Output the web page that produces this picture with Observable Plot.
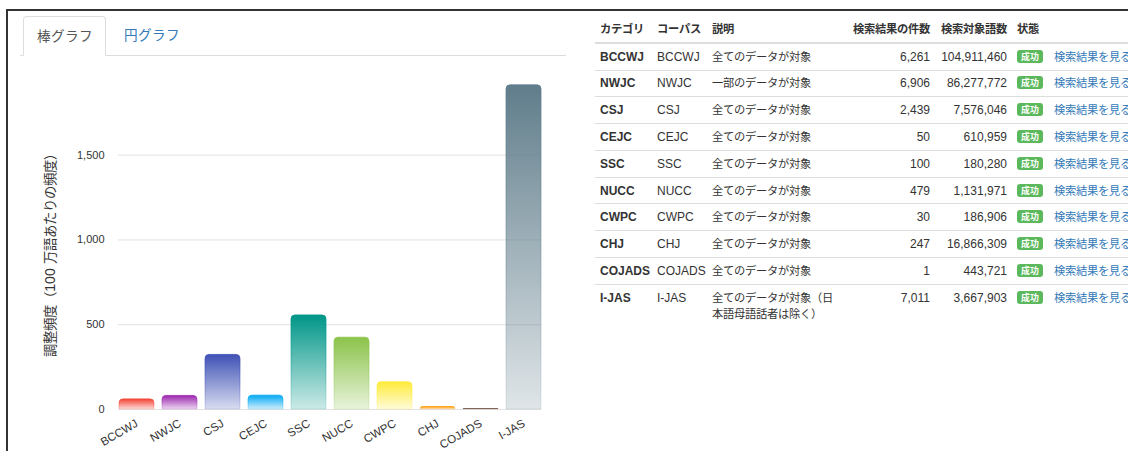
<!DOCTYPE html>
<html>
<head>
<meta charset="utf-8">
<script src="https://cdn.jsdelivr.net/npm/d3@7"></script>
<script src="https://cdn.jsdelivr.net/npm/@observablehq/plot@0.6"></script>
<style>
@font-face { font-family: "JPsmall"; src: local("Noto Sans CJK JP"), local("NotoSansCJKjp-Regular"); size-adjust: 94%; }
@font-face { font-family: "JPsmall"; src: local("Noto Sans CJK JP Bold"), local("NotoSansCJKjp-Bold"); font-weight: bold; size-adjust: 94%; }
html, body { margin: 0; padding: 0; width: 1128px; height: 451px; overflow: hidden; background: #fff; }
body { position: relative; font-family: "Liberation Sans", JPsmall, "Noto Sans CJK JP", sans-serif; color: #333; }
#frame { position: absolute; left: 6px; top: 9px; right: -4px; bottom: -4px; border-top: 2px solid #333; border-left: 2px solid #333; }
#tabs { position: absolute; left: 20px; top: 16px; width: 546px; height: 39px; border-bottom: 1px solid #ddd; }
.tab { position: absolute; top: 0; font-size: 14.5px; line-height: 38px; box-sizing: border-box; white-space: nowrap; }
.tab.active { left: 3px; width: 83px; height: 40px; border: 1px solid #ddd; border-bottom-color: #fff; border-radius: 4px 4px 0 0; background: #fff; color: #555; text-align: center; }
.tab.other { left: 104px; color: #337ab7; }
#chart { position: absolute; left: 8px; top: 60px; }
#tbl { position: absolute; left: 595px; top: 16px; border-collapse: collapse; table-layout: fixed; font-size: 12px; width: 574px; }
#tbl th, #tbl td { padding: 4.9px 5px; line-height: 16px; vertical-align: top; text-align: left; white-space: nowrap; overflow: visible; }
#tbl th { font-weight: bold; border-bottom: 2px solid #ddd; }
#tbl td { border-top: 1px solid #ddd; }
#tbl td.cat { font-weight: bold; }
#tbl td.desc { white-space: normal; }
#tbl .num { text-align: right; }
#tbl .badge { display: inline-block; background: #5cb85c; color: #fff; font-weight: bold; font-size: 9.5px; line-height: 13px; padding: 0 4px; border-radius: 3px; vertical-align: 1px; }
#tbl a { color: #337ab7; text-decoration: none; }
</style>
</head>
<body>
<div id="frame"></div>
<div id="tabs"></div>
<div id="chart"></div>
<table id="tbl"></table>
<script>
const FONT = "'Liberation Sans', JPsmall, 'Noto Sans CJK JP', sans-serif";

// ---- chart data ----
const categories = ["BCCWJ", "NWJC", "CSJ", "CEJC", "SSC", "NUCC", "CWPC", "CHJ", "COJADS", "I-JAS"];
const adjustedFreq = [59.7, 80.0, 321.9, 81.8, 554.7, 423.2, 160.5, 14.6, 2.3, 1911.4];
const barColors = ["#f44336", "#9c27b0", "#3f51b5", "#03a9f4", "#009688", "#8bc34a", "#ffeb3b", "#ff9800", "#795548", "#607d8b"];
const yTicks = [0, 500, 1000, 1500];
const yTitle = "調整頻度（100 万語あたりの頻度）";
const tabLabels = ["棒グラフ", "円グラフ"];

// ---- table data ----
const tableHeaders = ["カテゴリ", "コーパス", "説明", "検索結果の件数", "検索対象語数", "状態", ""];
const corpora = ["BCCWJ", "NWJC", "CSJ", "CEJC", "SSC", "NUCC", "CWPC", "CHJ", "COJADS", "I-JAS"];
const descriptions = ["全てのデータが対象", "一部のデータが対象", "全てのデータが対象", "全てのデータが対象", "全てのデータが対象", "全てのデータが対象", "全てのデータが対象", "全てのデータが対象", "全てのデータが対象", "全てのデータが対象（日本語母語話者は除く）"];
const hitCounts = [6261, 6906, 2439, 50, 100, 479, 30, 247, 1, 7011];
const wordCounts = [104911460, 86277772, 7576046, 610959, 180280, 1131971, 186906, 16866309, 443721, 3667903];
const statusLabel = "成功";
const linkLabel = "検索結果を見る";

// tabs
const tabs = d3.select("#tabs");
tabs.append("div").attr("class", "tab active").text(tabLabels[0]);
tabs.append("div").attr("class", "tab other").text(tabLabels[1]);

// chart
const rows = categories.map((c, i) => ({category: c, value: adjustedFreq[i], paint: `url(#barGrad${i})`}));
const chart = Plot.plot({
  width: 558,
  height: 391,
  marginLeft: 110,
  marginRight: 25,
  marginTop: 20,
  marginBottom: 42,
  style: {fontFamily: FONT, color: "#333", background: "transparent", overflow: "visible"},
  x: {type: "band", domain: categories, paddingInner: 0.186, paddingOuter: 0.01, align: 1, label: null},
  y: {domain: [0, 1940], label: null},
  color: {type: "identity"},
  marks: [
    Plot.gridY(yTicks, {stroke: "#e2e2e2", strokeOpacity: 1}),
    Plot.barY(rows, {x: "category", y: "value", fill: "paint", stroke: "paint", strokeWidth: 0.8, ry1: 4}),
    Plot.axisY(yTicks, {tickSize: 0, tickPadding: 14, fontSize: 11, tickFormat: d3.format(","), fill: "#333", label: null}),
    Plot.axisX({tickSize: 0, tickPadding: 13, tickRotate: -30, textAnchor: "end", lineAnchor: "middle", fontSize: 11.5, fill: "#333", label: null}),
    Plot.text([yTitle], {frameAnchor: "left", textAnchor: "middle", lineAnchor: "middle", rotate: -90, dx: -68, dy: 7, fontSize: 14.2, fill: "#333"})
  ]
});
const defs = d3.select(chart).insert("defs", ":first-child");
barColors.forEach((col, i) => {
  const g = defs.append("linearGradient").attr("id", `barGrad${i}`)
    .attr("x1", 0).attr("y1", 0).attr("x2", 0).attr("y2", 1);
  g.append("stop").attr("offset", "0%").attr("stop-color", col).attr("stop-opacity", 1);
  g.append("stop").attr("offset", "100%").attr("stop-color", col).attr("stop-opacity", 0.2);
});
document.getElementById("chart").appendChild(chart);

// table
const colWidths = [57, 55, 136, 92, 77, 37, 120];
const tbl = d3.select("#tbl");
tbl.append("colgroup").selectAll("col").data(colWidths).join("col").style("width", d => d + "px");
const head = tbl.append("thead").append("tr");
tableHeaders.forEach((h, i) => head.append("th").attr("class", (i === 3 || i === 4) ? "num" : null).text(h));
const body = tbl.append("tbody");
categories.forEach((c, i) => {
  const tr = body.append("tr");
  tr.append("td").attr("class", "cat").text(c);
  tr.append("td").text(corpora[i]);
  tr.append("td").attr("class", "desc").text(descriptions[i]);
  tr.append("td").attr("class", "num").text(d3.format(",")(hitCounts[i]));
  tr.append("td").attr("class", "num").text(d3.format(",")(wordCounts[i]));
  tr.append("td").append("span").attr("class", "badge").text(statusLabel);
  tr.append("td").append("a").attr("href", "#").text(linkLabel);
});
</script>
</body>
</html>
